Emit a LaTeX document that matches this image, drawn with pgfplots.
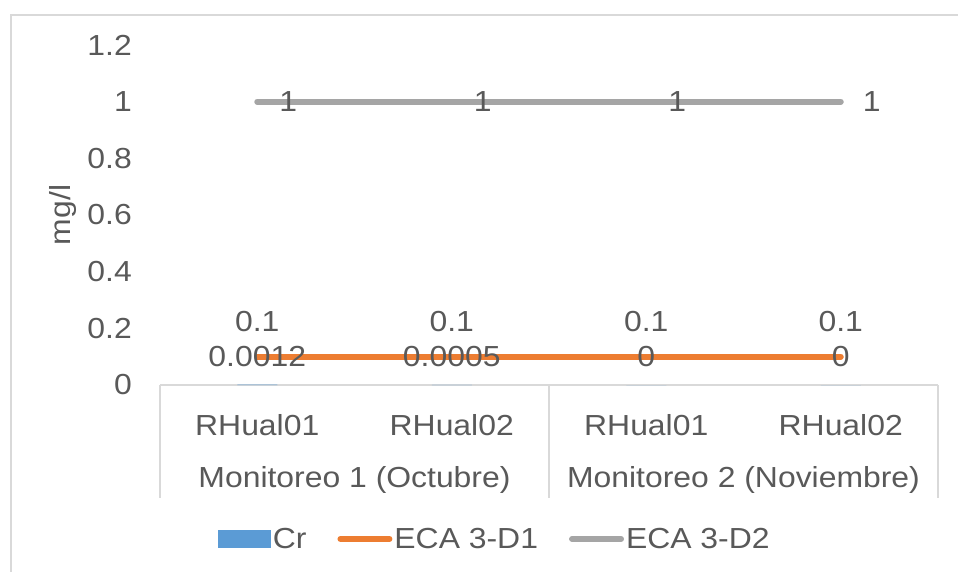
\documentclass[border=0pt]{standalone}
\usepackage{pgfplots}
\pgfplotsset{compat=1.18}
\usepackage{fontspec}
\setmainfont{Liberation Sans}[FakeStretch=1.1]
\definecolor{crblue}{HTML}{5B9BD5}
\definecolor{ecaorange}{HTML}{ED7D31}
\definecolor{ecagray}{HTML}{A5A5A5}
\definecolor{textgray}{HTML}{595959}
\definecolor{rulegray}{HTML}{D9D9D9}
\newcommand\chartfont{\fontsize{29bp}{35bp}\selectfont}

\begin{document}
\begin{tikzpicture}[font=\chartfont, text=textgray]
\useasboundingbox (0,0) rectangle (958bp,572bp);
% chart frame
\draw[rulegray, line width=1.5bp] (11bp,-5bp) -- (11bp,557bp) -- (965bp,557bp);
\begin{axis}[
  at={(160bp,187bp)}, anchor=south west,
  scale only axis, width=778bp, height=340bp,
  xmin=-0.5, xmax=3.5, ymin=0, ymax=1.2,
  xtick={0,1,2,3}, xticklabels={RHual01,RHual02,RHual01,RHual02},
  ytick={0,0.2,0.4,0.6,0.8,1,1.2},
  axis line style={draw=none},
  major tick length=0pt, tick style={draw=none},
  /pgf/number format/assume math mode=true,
  ticklabel style={font=\chartfont, text=textgray},
  yticklabel style={anchor=east, inner sep=0pt, xshift=-28bp},
  xticklabel style={anchor=center, inner sep=0pt, yshift=-40bp},
  ylabel={mg/l},
  ylabel style={at={(axis description cs:0,0.5)}, anchor=center, yshift=97bp, font=\chartfont, text=textgray},
  clip=false,
  legend columns=3,
  legend style={draw=none, fill=none, at={(axis description cs:0.4306,-0.4529)}, anchor=center,
    font=\chartfont, text=textgray,
    /tikz/every even column/.append style={column sep=29bp},
    nodes={inner sep=2bp}},
]
% category box of the two-level axis
\draw[rulegray, line width=1.5bp] (axis cs:-0.5,0) -- (axis cs:3.5,0);
\draw[rulegray, line width=1.5bp] (axis cs:-0.5,0) -- ++(0pt,-113bp);
\draw[rulegray, line width=1.5bp] (axis cs:1.5,0) -- ++(0pt,-113bp);
\draw[rulegray, line width=1.5bp] (axis cs:3.5,0) -- ++(0pt,-113bp);
\node[anchor=center, yshift=-95bp] at (axis cs:0.5,0) {Monitoreo 1 (Octubre)};
\node[anchor=center, yshift=-95bp] at (axis cs:2.5,0) {Monitoreo 2 (Noviembre)};

\addlegendimage{legend image code/.code={\fill[crblue] (0bp,-8.5bp) rectangle (52bp,8.5bp);}}
\addlegendentry{Cr}
\addlegendimage{legend image code/.code={\draw[ecaorange, line width=6bp, line cap=round] (3bp,0bp) -- (52bp,0bp);}}
\addlegendentry{ECA 3-D1}
\addlegendimage{legend image code/.code={\draw[ecagray, line width=6bp, line cap=round] (3bp,0bp) -- (52bp,0bp);}}
\addlegendentry{ECA 3-D2}

% ECA 3-D1
\addplot[ecaorange, line width=6bp, line cap=round, mark=none, forget plot,
  nodes near coords, point meta=explicit symbolic,
  every node near coord/.append style={anchor=center, yshift=35bp, inner sep=0pt, font=\chartfont, text=textgray}]
  coordinates {(0,0.1) [0.1] (1,0.1) [0.1] (2,0.1) [0.1] (3,0.1) [0.1]};
% ECA 3-D2
\addplot[ecagray, line width=6bp, line cap=round, mark=none, forget plot,
  nodes near coords, point meta=explicit symbolic,
  every node near coord/.append style={anchor=center, xshift=31bp, inner sep=0pt, font=\chartfont, text=textgray}]
  coordinates {(0,1) [1] (1,1) [1] (2,1) [1] (3,1) [1]};
% Cr
\addplot[ybar, bar width=40bp, fill=crblue, draw=none, forget plot,
  nodes near coords, point meta=explicit symbolic,
  every node near coord/.append style={anchor=center, yshift=28bp, inner sep=0pt, font=\chartfont, text=textgray}]
  coordinates {(0,0.0012) [0.0012] (1,0.0005) [0.0005] (2,0) [0] (3,0) [0]};
\end{axis}
\end{tikzpicture}
\end{document}
